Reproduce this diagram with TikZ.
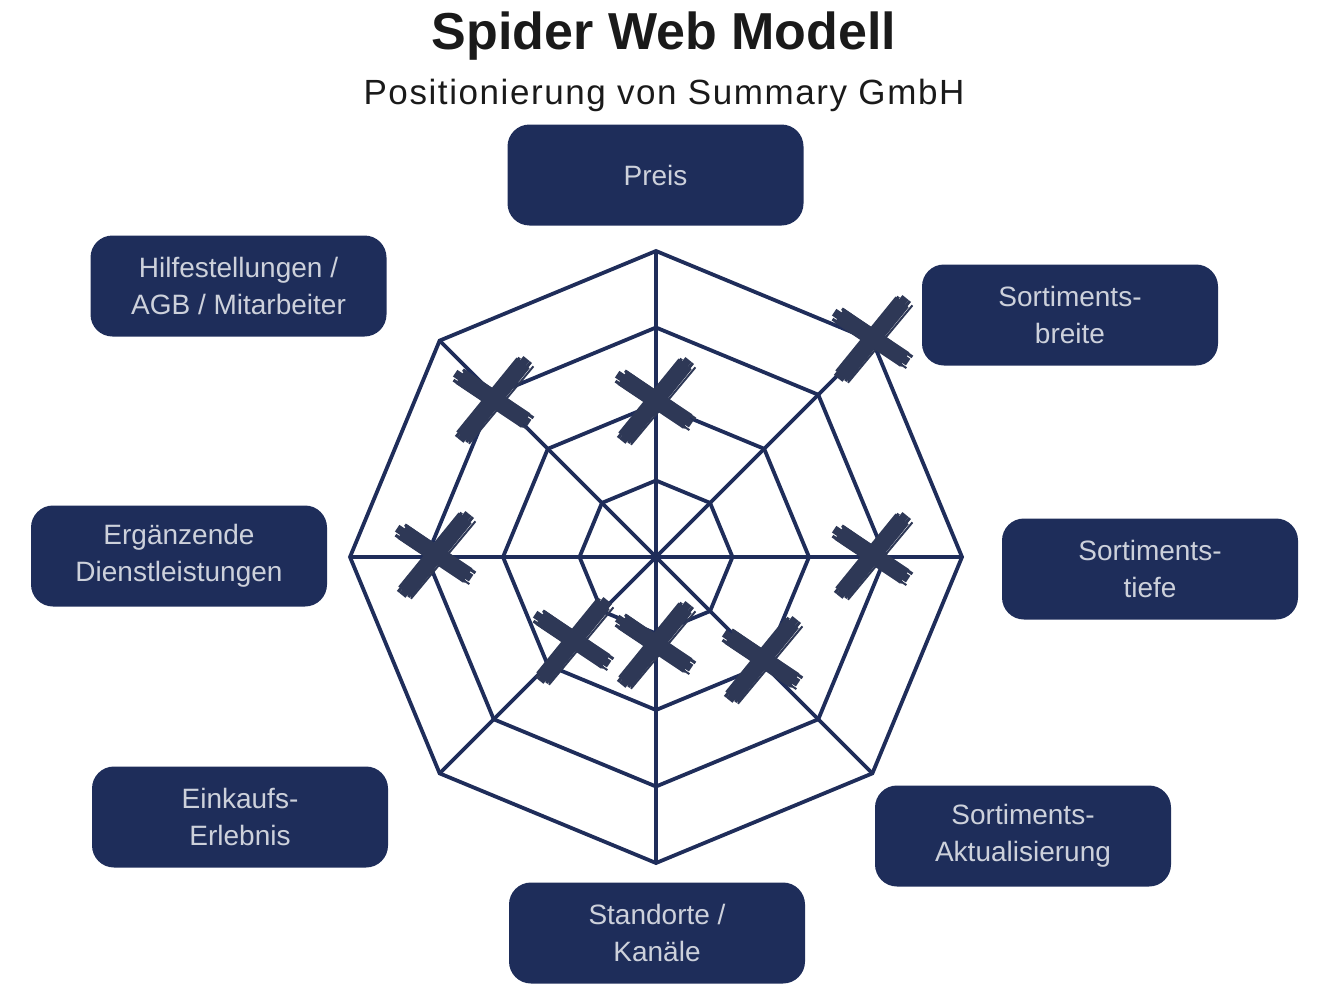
\documentclass[tikz,border=0pt]{standalone}
\usepackage{fontspec}
\setmainfont{Liberation Sans}
\newfontfamily\subfont[LetterSpace=4.5]{Liberation Sans}
\definecolor{boxc}{HTML}{1E2D5A}
\definecolor{webc}{HTML}{1F2D5A}
\definecolor{crossc}{HTML}{2E3856}
\definecolor{boxtext}{HTML}{CDD1DB}
\definecolor{titlec}{HTML}{1A1A1A}
\tikzset{
  web/.style={draw=webc, line width=3.8pt, line join=miter},
  labelbox/.style={fill=boxc, rounded corners=22pt, minimum width=296pt, minimum height=101pt,
    inner sep=0pt, align=center, text=boxtext, font=\fontsize{28}{37}\selectfont},
  brushx/.pic={
    \begin{scope}[scale=0.86]
    % stroke A: upper-left to lower-right
    \draw[crossc, line width=17pt] (-38,-26) -- (38,25);
    \draw[crossc, line width=3pt] (-46,-22) -- (35,32);
    \draw[crossc, line width=3pt] (-35,-34) -- (47,22);
    \draw[crossc, line width=8pt] (-44,-30) -- (42,28);
    \draw[crossc, line width=2pt] (-42,-19) -- (40,35);
    % stroke B: upper-right to lower-left
    \draw[crossc, line width=17pt] (35,-42) -- (-35,44);
    \draw[crossc, line width=3pt] (44,-43) -- (-31,50);
    \draw[crossc, line width=3pt] (31,-48) -- (-43,44);
    \draw[crossc, line width=8pt] (39,-47) -- (-38,48);
    \draw[crossc, line width=2pt] (47,-38) -- (-28,52);
    \end{scope}
  }
}
\begin{document}
\begin{tikzpicture}[x=1pt, y=-1pt]
\useasboundingbox (0,0) rectangle (1336,990);
% title
\node[anchor=base, text=titlec, font=\fontsize{52}{60}\selectfont\bfseries] (title) at (664,49) {Spider Web Modell};
\node[anchor=base, text=titlec, font=\fontsize{35}{40}\selectfont\subfont] (subtitle) at (664,104) {Positionierung von Summary GmbH};
% web
\coordinate (c) at (656,557);
\begin{scope}[shift={(656,557)}]
  \foreach \r in {306,229.5,153,76.5}{
    \draw[web] (0:\r) \foreach \a in {45,90,...,315}{ -- (\a:\r)} -- cycle;
  }
  \foreach \a in {0,45,...,315}{
    \draw[web] (0,0) -- (\a:306);
  }
\end{scope}
% crosses
\pic at (493,399) {brushx};
\pic at (655,400) {brushx};
\pic at (872,338) {brushx};
\pic at (872,555) {brushx};
\pic at (435,554) {brushx};
\pic at (573,640) {brushx};
\pic at (655,644) {brushx};
\pic at (762,659) {brushx};
% boxes
\node[labelbox] (preis) at (655.5,175) {Preis};
\node[labelbox] (hilfe) at (238.5,286) {Hilfestellungen /\\AGB / Mitarbeiter};
\node[labelbox] (breite) at (1070,315) {Sortiments-\\breite};
\node[labelbox] (ergaenz) at (179,556) {Ergänzende\\Dienstleistungen};
\node[labelbox] (tiefe) at (1150,569) {Sortiments-\\tiefe};
\node[labelbox] (einkauf) at (240,817) {Einkaufs-\\Erlebnis};
\node[labelbox] (aktual) at (1023,836) {Sortiments-\\Aktualisierung};
\node[labelbox] (standort) at (657,933) {Standorte /\\Kanäle};
\end{tikzpicture}
\end{document}
